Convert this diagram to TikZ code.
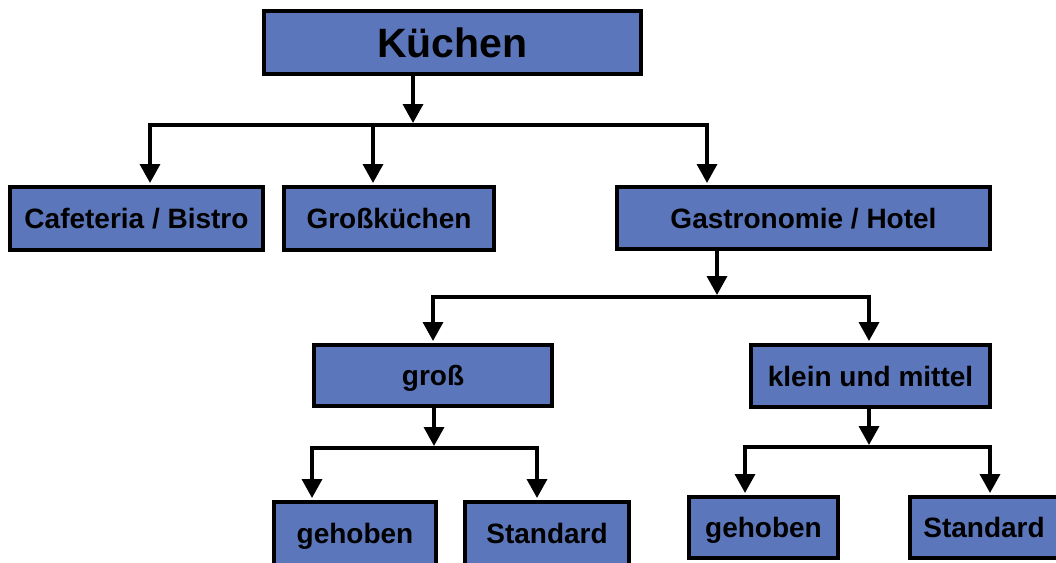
\documentclass[tikz,border=0pt]{standalone}
\usepackage{fontspec}
\setmainfont{Liberation Sans}
\usetikzlibrary{arrows.meta}

\definecolor{boxblue}{RGB}{91,118,186}
\tikzset{
	box/.style={draw=black, fill=boxblue, line width=4pt, inner sep=0pt,
		text height=20pt, text depth=0pt,
		font=\bfseries\fontsize{28}{32}\selectfont},
	bigbox/.style={box, text height=29.5pt, font=\bfseries\fontsize{41}{46}\selectfont},
	bus/.style={line width=3.5pt, line cap=rect},
	arr/.style={bus, -{Triangle[length=19pt,width=20pt]}, shorten >=2pt},
}

\begin{document}
\begin{tikzpicture}[x=1pt,y=-1pt]

\clip (0,0) rectangle (1056,562);
\fill[white] (0,0) rectangle (1056,562);

% boxes
\node[bigbox, minimum width=377pt, minimum height=63pt] (kuechen) at (452.5,42.5) {Küchen};

\node[box, minimum width=253pt, minimum height=63pt] (cafe) at (136.5,218.5) {Cafeteria / Bistro};
\node[box, minimum width=210pt, minimum height=63pt] (grossk) at (389,218.5) {Großküchen};
\node[box, minimum width=373pt, minimum height=62pt] (gastro) at (803.5,218) {Gastronomie / Hotel};

\node[box, minimum width=238pt, minimum height=61pt] (gross) at (433,375.5) {groß};
\node[box, minimum width=239pt, minimum height=62pt] (klein) at (870.5,376) {klein und mittel};

\node[box, minimum width=162pt, minimum height=63pt] (gehobenA) at (355,533.5) {gehoben};
\node[box, minimum width=164pt, minimum height=63pt] (standardA) at (547,533.5) {Standard};
\node[box, minimum width=149pt, minimum height=61pt] (gehobenB) at (763.5,527.5) {gehoben};
\node[box, minimum width=148pt, minimum height=61pt] (standardB) at (984,527.5) {Standard};

% junctions
\coordinate (j1) at (413,125);
\coordinate (j1l) at (150,125);
\coordinate (j1m) at (373,125);
\coordinate (j1r) at (707,125);

\coordinate (j2) at (717,297);
\coordinate (j2l) at (433,297);
\coordinate (j2r) at (869,297);

\coordinate (j3) at (434,448);
\coordinate (j3l) at (312,448);
\coordinate (j3r) at (537,448);

\coordinate (j4) at (869,447);
\coordinate (j4l) at (745,447);
\coordinate (j4r) at (990,447);

% connectors
\draw[arr] (kuechen.south -| j1) -- (j1);
\draw[bus] (j1l) -- (j1r);
\draw[arr] (j1l) -- (cafe.north -| j1l);
\draw[arr] (j1m) -- (grossk.north -| j1m);
\draw[arr] (j1r) -- (gastro.north -| j1r);

\draw[arr] (gastro.south -| j2) -- (j2);
\draw[bus] (j2l) -- (j2r);
\draw[arr] (j2l) -- (gross.north -| j2l);
\draw[arr] (j2r) -- (klein.north -| j2r);

\draw[arr] (gross.south -| j3) -- (j3);
\draw[bus] (j3l) -- (j3r);
\draw[arr] (j3l) -- (gehobenA.north -| j3l);
\draw[arr] (j3r) -- (standardA.north -| j3r);

\draw[arr] (klein.south -| j4) -- (j4);
\draw[bus] (j4l) -- (j4r);
\draw[arr] (j4l) -- (gehobenB.north -| j4l);
\draw[arr] (j4r) -- (standardB.north -| j4r);

\end{tikzpicture}
\end{document}
